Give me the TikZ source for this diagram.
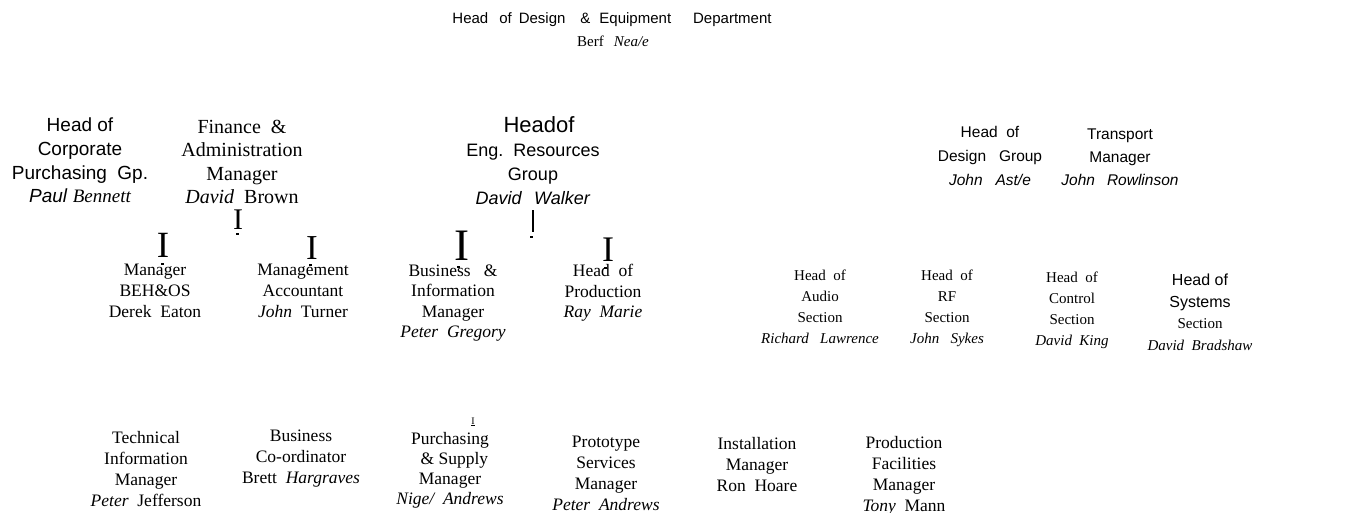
\documentclass[tikz,border=0pt]{standalone}
\usepackage{fontspec}
\setmainfont{Liberation Serif}
\setsansfont{Liberation Sans}
\newcommand{\sfsys}[1]{{\sffamily\fontsize{16}{21}\selectfont #1}}
\tikzset{
  lbl/.style={inner sep=0pt, align=center, text=black},
  sr/.style 2 args={lbl, font=\fontsize{#1}{#2}\selectfont},
  sn/.style 2 args={lbl, font=\sffamily\fontsize{#1}{#2}\selectfont},
  gl/.style={inner sep=0pt, font=\fontsize{#1}{#1}\selectfont},
  dotmark/.style={fill=black}
}
\begin{document}
\begin{tikzpicture}[x=1pt,y=-1pt]
\useasboundingbox (0,0) rectangle (1361,513);
% top
\node[sn={15}{18}] (dept) at (612,20) {Head\hspace{11pt}of\hspace{7pt}Design\hspace{15pt}\&\hspace{9pt}Equipment\hspace{22pt}Department};
\node[sr={15}{18}] (neale) at (613,41) {Berf\hspace{10pt}\textit{Nea/e}};
% second level
\node[sn={19}{23.6}] (corp) at (80,160.5) {Head of\\Corporate\\Purchasing\ \ Gp.\\\textit{Paul} {\rmfamily\itshape Bennett}};
\node[sr={20}{23.3}] (fin) at (242,162) {Finance\ \ \&\\Administration\\Manager\\\textit{David}\ \ Brown};
\node[sn={22}{22}] (eng) at (539,125) {Headof};
\node[sn={18}{24}] (engb) at (533,174) {Eng.\ \ Resources\\Group\\\textit{David}\hspace{12pt}\textit{Walker}};
\node[sn={15.5}{24}] (dg) at (990,156) {Head\ \ of\\Design\ \ \ Group\\\textit{John}\ \ \ \textit{Ast/e}};
\node[sn={15.5}{23}] (tr) at (1120,157) {Transport\\Manager\\\textit{John}\hspace{12pt}\textit{Rowlinson}};
% I glyphs
\node[gl=30] (i1) at (238,220) {I};
\node[gl=37] (i2) at (163,245.5) {I};
\node[gl=35] (i3) at (312,248.5) {I};
\node[gl=45] (i4) at (462,246) {I};
\node[gl=36] (i5) at (608,249.5) {I};
\node[inner sep=0pt] (i6) at (533,221) {\rule{1.6pt}{22pt}};
\node[gl=10] (i7) at (473,422) {\underline{I}};
\fill[dotmark] (236,233) rectangle ++(2.5,2.5);
\fill[dotmark] (161,263) rectangle ++(2.5,2.5);
\fill[dotmark] (309,264) rectangle ++(2.5,2.5);
\fill[dotmark] (457,266) rectangle ++(2.5,2.5);
\fill[dotmark] (604,267) rectangle ++(2.5,2.5);
\fill[dotmark] (530,236) rectangle ++(2.5,2.5);
% third level
\node[sr={17.5}{21}] (beh) at (155,291) {Manager\\BEH\&OS\\Derek\ \ Eaton};
\node[sr={17.5}{21}] (acc) at (303,291) {Management\\Accountant\\\textit{John}\ \ Turner};
\node[sr={17.5}{20.5}] (bim) at (453,303) {Business\ \ \ \&\\Information\\Manager\\\textit{Peter\ \ Gregory}};
\node[sr={17.5}{20.5}] (prod) at (603,293) {Head\ \ of\\Production\\\textit{Ray\ \ Marie}};
\node[sr={15}{21}] (audio) at (820,306.5) {Head\ \ of\\Audio\\Section\\\textit{Richard\ \ \ Lawrence}};
\node[sr={15}{21}] (rf) at (947,308.5) {Head\ \ of\\RF\\Section\\\textit{John\ \ \ Sykes}};
\node[sr={15}{21}] (ctl) at (1072,310) {Head\ \ of\\Control\\Section\\\textit{David\ \ King}};
\node[sr={15}{21.5}] (sys) at (1200,312.5) {\sfsys{Head of}\\\sfsys{Systems}\\Section\\\textit{David\ \ Bradshaw}};
% bottom row
\node[sr={17.5}{21}] (tech) at (146,469) {Technical\\Information\\Manager\\\textit{Peter}\ \ Jefferson};
\node[sr={17.5}{21}] (bco) at (301,459) {Business\\Co-ordinator\\Brett\ \ \textit{Hargraves}};
\node[sr={17.5}{20}] (pur) at (450,470.5) {Purchasing\\\ \ \&\ Supply\\Manager\\\textit{Nige/\ \ Andrews}};
\node[sr={17.5}{21}] (proto) at (606,473) {Prototype\\Services\\Manager\\\textit{Peter\ \ Andrews}};
\node[sr={17.5}{21}] (inst) at (757,464.5) {Installation\\Manager\\Ron\ \ Hoare};
\node[sr={17.5}{21}] (pf) at (904,476) {Production\\Facilities\\Manager\\\textit{Tony}\ \ Mann};
\end{tikzpicture}
\end{document}
